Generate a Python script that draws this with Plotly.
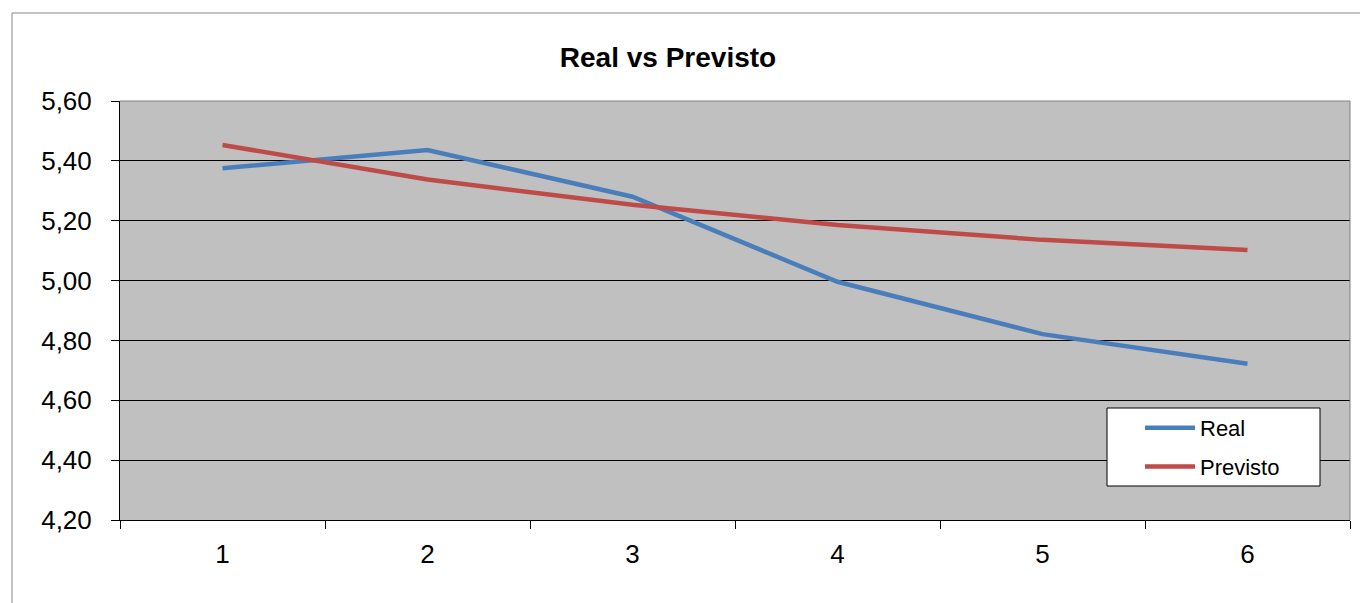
import plotly.graph_objects as go

# Periods on the horizontal axis
periods = ["1", "2", "3", "4", "5", "6"]

# Observed vs forecast values per period
real = [5.375, 5.436, 5.280, 4.996, 4.821, 4.722]
previsto = [5.453, 5.338, 5.253, 5.186, 5.136, 5.102]

FONT = "Liberation Sans, Arial, sans-serif"
BLUE = "#4A7EBB"
RED = "#BE4B48"

fig = go.Figure()
fig.add_trace(go.Scatter(x=periods, y=real, name="Real", mode="lines",
                         line=dict(color=BLUE, width=4.5), legendgroup="a"))
fig.add_trace(go.Scatter(x=periods, y=previsto, name="Previsto", mode="lines",
                         line=dict(color=RED, width=4.5), legendgroup="b"))

W, H = 1360, 603
L, R, T, B = 120, 10, 101, 83
pw, ph = W - L - R, H - T - B


def px(x):
    return (x - L) / pw


def py(y):
    return (H - B - y) / ph


fig.update_layout(
    width=W, height=H,
    margin=dict(l=L, r=R, t=T, b=B, autoexpand=False),
    paper_bgcolor="white",
    plot_bgcolor="#C0C0C0",
    separators=", ",
    font=dict(family=FONT, color="black"),
    title=dict(text="<b>Real vs Previsto</b>", font=dict(size=28, family=FONT),
               x=668 / W, xanchor="center", xref="container",
               y=1 - 57 / H, yanchor="middle", yref="container"),
    showlegend=True,
    legend=dict(x=px(1140), y=py(407), xanchor="left", yanchor="top",
                bgcolor="rgba(0,0,0,0)", borderwidth=0,
                font=dict(size=22, family=FONT),
                traceorder="grouped", tracegroupgap=7, itemwidth=50),
    xaxis=dict(type="category", range=[-0.5, 5.5], tickson="boundaries",
               ticks="outside", automargin=False,
               ticklen=8, tickcolor="black", showline=True, linecolor="black",
               linewidth=1, showgrid=False, tickfont=dict(size=26, family=FONT),
               ticklabelstandoff=11),
    yaxis=dict(range=[4.2, 5.6], dtick=0.2, tick0=4.2, tickformat=".2f",
               ticks="outside", ticklen=8, tickcolor="black", showline=True,
               linecolor="black", linewidth=1, showgrid=True, automargin=False,
               gridcolor="black", gridwidth=1, zeroline=False,
               tickfont=dict(size=26, family=FONT), ticklabelstandoff=14),
    shapes=[
        # outer chart frame
        dict(type="rect", xref="paper", yref="paper",
             x0=px(12), x1=px(1400), y0=py(650), y1=py(13),
             line=dict(color="#868686", width=1), fillcolor="rgba(0,0,0,0)",
             layer="below"),
        # plot area top/right edges
        dict(type="line", xref="paper", yref="paper", x0=0, x1=1, y0=1, y1=1,
             line=dict(color="#808080", width=1), layer="above"),
        dict(type="line", xref="paper", yref="paper", x0=1, x1=1, y0=0, y1=1,
             line=dict(color="#808080", width=1), layer="above"),
        # legend box
        dict(type="rect", xref="paper", yref="paper",
             x0=px(1107), x1=px(1320), y0=py(486), y1=py(408),
             line=dict(color="black", width=1), fillcolor="white",
             layer="above"),
    ],
)

fig.write_html("out.html")
